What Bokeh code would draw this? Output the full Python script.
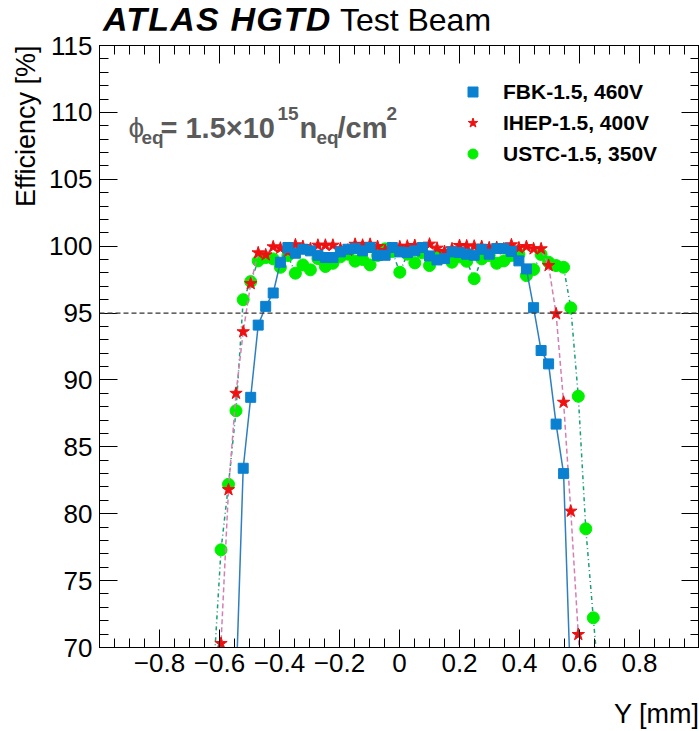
import numpy as np
from bokeh.plotting import figure
from bokeh.layouts import column
from bokeh.models import (Range1d, FixedTicker, LinearAxis, Label, Legend, LegendItem,
                          Span, CustomJSTickFormatter, Title, Div)
from bokeh.embed import file_html
from bokeh.resources import INLINE

# ---------------- data ----------------
fbk_y_mm = [-0.545, -0.521, -0.496, -0.471, -0.446, -0.421, -0.397, -0.372, -0.347, -0.322,
            -0.297, -0.272, -0.247, -0.222, -0.197, -0.172, -0.148, -0.123, -0.098, -0.073,
            -0.048, -0.024, 0.001, 0.026, 0.051, 0.076, 0.100, 0.125, 0.150, 0.175,
            0.200, 0.224, 0.249, 0.274, 0.299, 0.324, 0.348, 0.373, 0.398, 0.423,
            0.447, 0.472, 0.497, 0.522, 0.547, 0.571]
fbk_eff = [67.0, 83.4, 88.7, 94.1, 95.5, 96.5, 98.8, 99.9, 99.47, 99.77,
           99.65, 99.32, 99.15, 99.15, 99.57, 99.77, 99.82, 99.65, 99.9, 99.32,
           99.32, 99.9, 99.57, 99.52, 99.65, 99.9, 99.27, 98.97, 99.07, 99.57,
           99.52, 99.4, 99.32, 99.77, 99.4, 99.82, 99.82, 99.6, 98.9, 98.3,
           95.4, 92.2, 91.2, 86.7, 83.0, 66.6]

ihep_y_mm = [-0.620, -0.595, -0.570, -0.545, -0.521, -0.496, -0.471, -0.446, -0.421, -0.397,
             -0.372, -0.347, -0.322, -0.297, -0.272, -0.247, -0.222, -0.197, -0.172, -0.148,
             -0.123, -0.098, -0.073, -0.048, -0.024, 0.001, 0.026, 0.051, 0.076, 0.100,
             0.125, 0.150, 0.175, 0.200, 0.224, 0.249, 0.274, 0.299, 0.324, 0.348,
             0.373, 0.398, 0.423, 0.447, 0.472, 0.497, 0.522, 0.547, 0.571, 0.596,
             0.621]
ihep_eff = [55.0, 70.3, 81.8, 89.0, 93.6, 97.2, 99.5, 99.35, 99.95, 99.85,
            99.6, 100.1, 99.97, 99.8, 100.07, 100.07, 100.07, 99.8, 99.7, 100.14,
            100.07, 100.14, 99.97, 99.67, 99.8, 99.95, 100.0, 100.05, 99.8, 100.15,
            99.85, 99.6, 99.8, 100.05, 100.02, 100.0, 99.97, 99.88, 99.9, 99.8,
            100.1, 99.87, 99.97, 99.8, 99.8, 98.55, 94.94, 88.33, 80.19, 70.97,
            60.0]

ustc_y_mm = [-0.620, -0.595, -0.570, -0.545, -0.521, -0.496, -0.471, -0.446, -0.421, -0.397,
             -0.372, -0.347, -0.322, -0.297, -0.272, -0.247, -0.222, -0.197, -0.172, -0.148,
             -0.123, -0.098, -0.073, -0.048, -0.024, 0.001, 0.026, 0.051, 0.076, 0.100,
             0.125, 0.150, 0.175, 0.200, 0.224, 0.249, 0.274, 0.299, 0.324, 0.348,
             0.373, 0.398, 0.423, 0.447, 0.472, 0.497, 0.522, 0.547, 0.571, 0.596,
             0.621, 0.646, 0.670]
ustc_eff = [68.0, 77.3, 82.2, 87.7, 96.0, 97.35, 98.9, 99.15, 99.05, 98.42,
            99.3, 97.98, 98.6, 98.23, 99.07, 98.48, 98.72, 99.2, 99.4, 98.88,
            99.0, 98.6, 99.3, 99.8, 99.6, 98.05, 99.4, 98.75, 99.5, 98.55,
            99.2, 99.3, 98.8, 99.2, 98.87, 97.57, 99.05, 99.3, 98.72, 98.9,
            99.3, 99.4, 97.8, 98.25, 99.38, 98.8, 98.55, 98.42, 95.39, 88.78,
            78.87, 72.22, 66.0]

legend_labels = ["FBK-1.5, 460V", "IHEP-1.5, 400V", "USTC-1.5, 350V"]
x_major = [-0.8, -0.6, -0.4, -0.2, 0.0, 0.2, 0.4, 0.6, 0.8]
y_major = [70, 75, 80, 85, 90, 95, 100, 105, 110, 115]
threshold = 95

# ---------------- layout constants ----------------
FONT = "Liberation Sans"
PAGE_W, PAGE_H = 699, 731
DIV_H = 30
W, H = PAGE_W, PAGE_H - DIV_H
ML, MT, MB = 99, 15, 84
X0, X1 = -1.0, 1.0
Y0, Y1 = 70, 115
FRAME_TOP = DIV_H + MT          # page pixel of frame top
FRAME_BOTTOM = DIV_H + H - MB   # page pixel of frame bottom
PX_PER_X = (W - ML) / (X1 - X0)
PX_PER_Y = (FRAME_BOTTOM - FRAME_TOP) / (Y1 - Y0)

def dx(px):  # page pixel -> data x
    return X0 + (px - ML) / PX_PER_X

def dy(py):  # page pixel -> data y
    return Y0 + (FRAME_BOTTOM - py) / PX_PER_Y

p = figure(width=W, height=H, output_backend="svg", toolbar_location=None,
           x_range=Range1d(X0, X1), y_range=Range1d(Y0, Y1),
           min_border_left=ML, min_border_right=0, min_border_top=MT, min_border_bottom=MB)
p.xgrid.visible = False
p.ygrid.visible = False
p.outline_line_color = "black"
p.background_fill_color = "white"
p.border_fill_color = "white"

x_ticker = FixedTicker(ticks=x_major, minor_ticks=list(np.round(np.arange(-1.0, 1.0001, 0.05), 3)))
y_ticker = FixedTicker(ticks=y_major, minor_ticks=list(range(70, 116)))

def style_axis(ax, ticker, standoff, size="26px"):
    ax.ticker = ticker
    ax.axis_line_color = "black"
    ax.axis_line_width = 1
    ax.major_tick_in = 18
    ax.major_tick_out = 0
    ax.minor_tick_in = 9
    ax.minor_tick_out = 0
    ax.major_tick_line_color = "black"
    ax.minor_tick_line_color = "black"
    ax.major_label_text_font = FONT
    ax.major_label_text_color = "black"
    ax.major_label_text_font_size = size
    ax.major_label_standoff = standoff

style_axis(p.xaxis[0], x_ticker, 6)
p.xaxis[0].formatter = CustomJSTickFormatter(code="""
    if (Math.abs(tick) < 1e-9) { return "0"; }
    const s = Math.abs(tick).toFixed(1);
    return tick < 0 ? "\u2212" + s : s;
""")
# blank spacer label that pushes the x title down to the bottom corner
p.xaxis[0].axis_label = " "
p.xaxis[0].axis_label_text_font_size = "14px"
p.xaxis[0].axis_label_standoff = 0
style_axis(p.yaxis[0], y_ticker, 7)

top_ax = LinearAxis(formatter=CustomJSTickFormatter(code="return '';"))
style_axis(top_ax, x_ticker, 0, "1px")
p.add_layout(top_ax, "above")
right_ax = LinearAxis(formatter=CustomJSTickFormatter(code="return '';"))
style_axis(right_ax, y_ticker, 0, "1px")
p.add_layout(right_ax, "right")

# axis titles (ROOT style: at the end of each axis)
p.add_layout(Title(text="Efficiency [%]", align="right", vertical_align="middle",
                   text_font=FONT, text_font_size="27px", text_font_style="normal",
                   text_color="black", offset=0), "left")
p.add_layout(Title(text="Y [mm]", align="right", vertical_align="bottom", standoff=6,
                   text_font=FONT, text_font_size="27px", text_font_style="normal",
                   text_color="black", offset=0), "below")

# threshold line
p.add_layout(Span(location=threshold, dimension="width", line_color="#333333",
                  line_width=1.2, line_dash="5 3"))

# series: USTC (bottom), IHEP, FBK (top)
p.line(ustc_y_mm, ustc_eff, line_color="#1a9e78", line_width=1.5, line_dash="4 3 1 3")
ustc_r = p.scatter(ustc_y_mm, ustc_eff, marker="circle", size=12,
                   fill_color="#00f000", line_color="#00f000")
p.line(ihep_y_mm, ihep_eff, line_color="#d47fb4", line_width=1.5, line_dash="5 3")
ihep_r = p.scatter(ihep_y_mm, ihep_eff, marker="star", size=13,
                   fill_color="#ee1111", line_color="#ee1111")
p.line(fbk_y_mm, fbk_eff, line_color="#2d7fc1", line_width=1.5)
fbk_r = p.scatter(fbk_y_mm, fbk_eff, marker="square", size=10,
                  fill_color="#0a80d0", line_color="#0a80d0")

legend = Legend(items=[LegendItem(label=legend_labels[0], renderers=[fbk_r]),
                       LegendItem(label=legend_labels[1], renderers=[ihep_r]),
                       LegendItem(label=legend_labels[2], renderers=[ustc_r])],
                location=(361, 478), orientation="vertical", padding=0, margin=0, spacing=0,
                glyph_width=25, glyph_height=31, label_height=31, label_standoff=18,
                label_text_font=FONT, label_text_font_style="bold", label_text_font_size="21px",
                label_text_color="black", background_fill_alpha=0, border_line_alpha=0)
p.add_layout(legend)

def lab(text, px, py, size, style="normal", color="black"):
    p.add_layout(Label(x=dx(px), y=dy(py), text=text, text_font=FONT,
                       text_font_size=f"{size}px", text_font_style=style, text_color=color,
                       text_align="left", text_baseline="alphabetic"))

# fluence annotation
G = "#5a5a5a"
lab("\u03d5", 128, 127, 28, "normal", G)
lab("eq", 141, 137, 19, "bold", G)
lab("= 1.5\u00d710", 160, 127, 29, "bold", G)
lab("15", 277, 113, 19, "bold", G)
lab("n", 299, 127, 29, "bold", G)
lab("eq", 316, 137, 19, "bold", G)
lab("/cm", 337, 127, 29, "bold", G)
lab("2", 386, 113, 19, "bold", G)

# title strip above the plot (ATLAS HGTD bold italic + Test Beam)
title_html = (
    '<div style="position:relative;width:699px;height:30px;">'
    '<span style="position:absolute;left:103px;top:7px;white-space:nowrap;'
    "font-family:'Liberation Sans',Arial,sans-serif;font-size:34px;line-height:24px;color:#000;\">"
    '<span style="font-weight:bold;font-style:italic;letter-spacing:1.2px;">ATLAS HGTD</span>'
    '<span style="font-size:32px;font-weight:normal;"> Test Beam</span>'
    '</span></div>'
)
title_div = Div(text=title_html, width=PAGE_W, height=DIV_H, margin=(0, 0, 0, 0))

layout = column(title_div, p, spacing=0)
open("out.html", "w").write(file_html(layout, INLINE))
